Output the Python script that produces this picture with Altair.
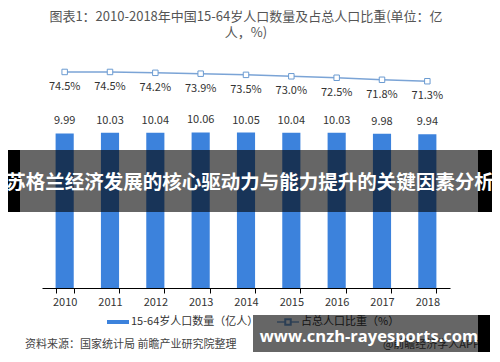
import altair as alt
import pandas as pd

years = ["2010", "2011", "2012", "2013", "2014", "2015", "2016", "2017", "2018"]
population = [9.99, 10.03, 10.04, 10.06, 10.05, 10.04, 10.03, 9.98, 9.94]
share = [74.5, 74.5, 74.2, 73.9, 73.5, 73.0, 72.5, 71.8, 71.3]
left_ticks = [0, 5, 10, 15]
right_ticks = [0, 20, 40, 60, 80]
title_lines = ["图表1：2010-2018年中国15-64岁人口数量及占总人口比重(单位：亿", "人，%)"]
legend_bar = ["15-64岁人口数量（亿人）"]
legend_line = ["占总人口比重（%）"]
source_text = ["资料来源：国家统计局 前瞻产业研究院整理"]
credit_text = ["@前瞻经济学人APP"]
banner_text = ["苏格兰经济发展的核心驱动力与能力提升的关键因素分析"]
watermark_text = ["www.cnzh-rayesports.com"]

FONT = "Noto Sans CJK SC"
BAR = "#3c82dc"
LINE = "#7ba4d6"

df = pd.DataFrame({"year": years, "pop": population, "share": share})
df["pop_label"] = [f"{v:.2f}" for v in population]
df["share_label"] = [f"{v:.1f}%" for v in share]

x = alt.X(
    "year:N",
    scale=alt.Scale(paddingInner=0.6, paddingOuter=0.3),
    axis=alt.Axis(title=None, labelAngle=0, tickBand="extent", tickSize=5, labelPadding=3),
)

base = alt.Chart(df)
bars = base.mark_bar(color=BAR).encode(
    x=x,
    y=alt.Y("pop:Q", scale=alt.Scale(domain=[0, 15]),
            axis=alt.Axis(title=None, orient="left", values=left_ticks, tickSize=4, labelPadding=4)),
)
bar_text = base.mark_text(baseline="bottom", dy=-7, fontSize=11, color="#333", font=FONT).encode(
    x=x, y=alt.Y("pop:Q", scale=alt.Scale(domain=[0, 15]), axis=None), text="pop_label:N"
)
left = alt.layer(bars, bar_text)

line = base.mark_line(
    color=LINE, strokeWidth=1.5,
    point=alt.OverlayMarkDef(shape="square", filled=True, fill="white", stroke="#6b9bd1", size=30, strokeWidth=1),
).encode(
    x=x,
    y=alt.Y("share:Q", scale=alt.Scale(domain=[0, 80]),
            axis=alt.Axis(title=None, orient="right", values=right_ticks, tickSize=4, labelPadding=4,
                          labelExpr="datum.value + '%'")),
)
line_text = base.mark_text(baseline="top", dy=9, fontSize=11, color="#333", font=FONT).encode(
    x=x, y=alt.Y("share:Q", scale=alt.Scale(domain=[0, 80]), axis=None), text="share_label:N"
)
right = alt.layer(line, line_text)

one = pd.DataFrame({"k": [0]})

leg_rect = alt.Chart(one).mark_rect(color=BAR).encode(
    x=alt.value(65), x2=alt.value(87), y=alt.value(264), y2=alt.value(268))
leg_text1 = alt.Chart(pd.DataFrame({"t": legend_bar})).mark_text(
    align="left", baseline="middle", fontSize=11, color="#333", font=FONT).encode(
    x=alt.value(89), y=alt.value(266), text="t:N")
leg_line = alt.Chart(one).mark_rule(color=LINE, strokeWidth=1.5).encode(
    x=alt.value(235), x2=alt.value(257), y=alt.value(266))
leg_pt = alt.Chart(one).mark_point(shape="square", filled=True, fill="white", stroke="#6b9bd1", size=30, opacity=1).encode(
    x=alt.value(246), y=alt.value(266))
leg_text2 = alt.Chart(pd.DataFrame({"t": legend_line})).mark_text(
    align="left", baseline="middle", fontSize=11, color="#333", font=FONT).encode(
    x=alt.value(259), y=alt.value(266), text="t:N")

src = alt.Chart(pd.DataFrame({"t": source_text})).mark_text(
    align="left", baseline="middle", fontSize=11, color="#444", font=FONT).encode(
    x=alt.value(-17), y=alt.value(289), text="t:N")
credit = alt.Chart(pd.DataFrame({"t": credit_text})).mark_text(
    align="right", baseline="middle", fontSize=11, color="#444", font=FONT).encode(
    x=alt.value(438), y=alt.value(289), text="t:N")

banner_bg = alt.Chart(one).mark_rect(color="black", opacity=0.6).encode(
    x=alt.value(-22), x2=alt.value(436), y=alt.value(94), y2=alt.value(156))
banner_l = alt.Chart(one).mark_rect(color="black").encode(
    x=alt.value(-42), x2=alt.value(-22), y=alt.value(94), y2=alt.value(156))
banner_r = alt.Chart(one).mark_rect(color="black").encode(
    x=alt.value(436), x2=alt.value(458), y=alt.value(94), y2=alt.value(156))
banner = alt.Chart(pd.DataFrame({"t": banner_text})).mark_text(
    align="center", baseline="middle", fontSize=19.5, fontWeight="bold", color="white", font=FONT).encode(
    x=alt.value(208), y=alt.value(127), text="t:N")

wm_bg = alt.Chart(one).mark_rect(color="black", opacity=0.6).encode(
    x=alt.value(211), x2=alt.value(436), y=alt.value(259), y2=alt.value(296))
wm_r = alt.Chart(one).mark_rect(color="black").encode(
    x=alt.value(436), x2=alt.value(448), y=alt.value(259), y2=alt.value(296))
wm = alt.Chart(pd.DataFrame({"t": watermark_text})).mark_text(
    align="center", baseline="middle", fontSize=16.5, fontWeight="bold", color="white", font="Open Sans").encode(
    x=alt.value(327), y=alt.value(281), text="t:N")

chart = alt.layer(
    left, right,
    leg_rect, leg_text1, leg_line, leg_pt, leg_text2, src, credit,
    banner_bg, banner_l, banner_r, banner,
    wm_bg, wm_r, wm,
).resolve_scale(y="independent").properties(
    width=408, height=232,
    padding={"left": 34, "top": 48, "right": 42, "bottom": 66},
    autosize=alt.AutoSizeParams(type="none"),
    title=alt.Title(title_lines, anchor="middle", fontSize=13, fontWeight="normal", color="#555",
                    font=FONT, offset=16, lineHeight=16),
).configure_view(stroke=None).configure_axis(
    domainColor="#000", tickColor="#000", labelColor="#333", labelFont=FONT, labelFontSize=11, grid=False,
)

chart.save("out.html", embed_options={"renderer": "svg", "actions": False})
